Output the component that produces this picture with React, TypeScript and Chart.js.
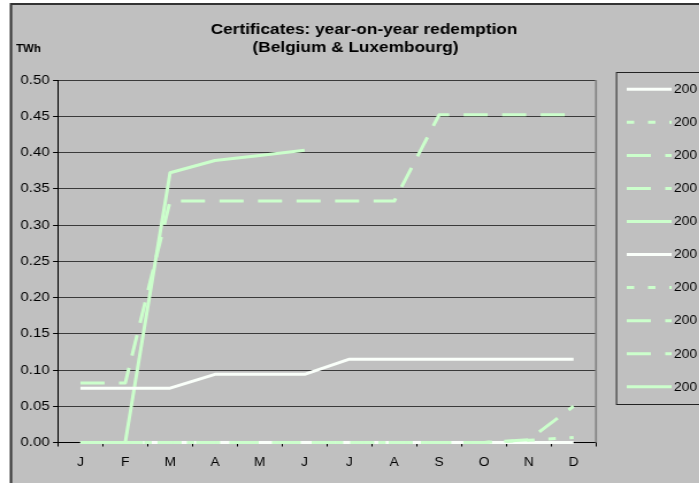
import React, { useEffect, useRef } from "react";
import { Chart, registerables } from "chart.js";

Chart.register(...registerables);

// ---- data ----
const months = ["J", "F", "M", "A", "M", "J", "J", "A", "S", "O", "N", "D"];
const seriesNames = ["2000", "2001", "2002", "2003", "2004", "2005", "2006", "2007", "2008", "2009"];
const s1 = [0.075, 0.075, 0.075, 0.094, 0.094, 0.094, 0.115, 0.115, 0.115, 0.115, 0.115, 0.115];
const s2 = [0, 0, 0, 0, 0, 0, 0, 0, 0, 0, 0.003, 0.007];
const s3 = [0.082, 0.082, 0.333, 0.333, 0.333, 0.333, 0.333, 0.333, 0.452, 0.452, 0.452, 0.452];
const s4 = [0, 0, 0, 0, 0, 0, 0, 0, 0, 0, 0.004, 0.05];
const s5 = [0, 0, 0.372, 0.389, 0.396, 0.403, null, null, null, null, null, null];
const s6 = [0, 0, 0, 0, 0, 0, 0, 0, 0, 0, 0, 0];
const s7 = [null, null, null, null, null, null, null, null, null, null, null, null];
const s8 = [null, null, null, null, null, null, null, null, null, null, null, null];
const s9 = [null, null, null, null, null, null, null, null, null, null, null, null];
const s10 = [null, null, null, null, null, null, null, null, null, null, null, null];
const seriesValues = [s1, s2, s3, s4, s5, s6, s7, s8, s9, s10];
const yTicks = { min: 0, max: 0.5, step: 0.05 };

// ---- styles ----
const S = 1.15; // horizontal stretch
const CW = 700;
const CH = 483;
const fx = (x: number) => x / S;
const FONT = '"Liberation Sans", Arial, sans-serif';
const WHITE = "#fafffa";
const GREEN = "#ccffcc";
const DOT = [6.5, 12];
const DASH = [21, 12.5];
const styles = [
  { color: WHITE, dash: [] as number[] },
  { color: GREEN, dash: DOT },
  { color: GREEN, dash: DASH },
  { color: GREEN, dash: DASH },
  { color: GREEN, dash: [] as number[] },
];

const decorPlugin = {
  id: "decor",
  beforeDraw(chart: any) {
    const ctx = chart.ctx;
    ctx.save();
    ctx.fillStyle = "#ffffff";
    ctx.fillRect(0, 0, CW, CH);
    ctx.fillStyle = "#c0c0c0";
    ctx.fillRect(fx(10), 3, CW, CH);
    ctx.strokeStyle = "#333333";
    ctx.lineWidth = 2;
    ctx.beginPath();
    ctx.moveTo(fx(11), CH + 5);
    ctx.lineTo(fx(11), 4);
    ctx.lineTo(CW + 5, 4);
    ctx.stroke();
    ctx.restore();
  },
  afterDraw(chart: any) {
    const ctx = chart.ctx;
    const area = chart.chartArea;
    ctx.save();
    // right plot border
    ctx.strokeStyle = "#858585";
    ctx.lineWidth = 2 / S;
    ctx.beginPath();
    ctx.moveTo(area.right, area.top);
    ctx.lineTo(area.right, area.bottom);
    ctx.stroke();

    // title
    ctx.fillStyle = "#000";
    ctx.textBaseline = "middle";
    ctx.textAlign = "center";
    ctx.font = `bold 15px ${FONT}`;
    ctx.fillText("Certificates: year-on-year redemption", fx(364), 29.5);
    ctx.fillText("(Belgium & Luxembourg)", fx(355.5), 48);
    ctx.textAlign = "left";
    ctx.font = `bold 10px ${FONT}`;
    ctx.fillText("TWh", fx(16), 49.5);

    // legend
    ctx.strokeStyle = "#222";
    ctx.lineWidth = 1;
    ctx.strokeRect(fx(616.5), 72.5, CW, 332);
    ctx.font = `12px ${FONT}`;
    for (let i = 0; i < seriesNames.length; i++) {
      const st = styles[i % 5];
      const y = 89.3 + i * 33.05;
      ctx.strokeStyle = st.color;
      ctx.lineWidth = 3;
      ctx.setLineDash(st.dash);
      ctx.beginPath();
      ctx.moveTo(fx(626.7), y);
      ctx.lineTo(fx(671.7), y);
      ctx.stroke();
      ctx.setLineDash([]);
      ctx.save();
      ctx.beginPath();
      ctx.rect(fx(620), y - 10, fx(697) - fx(620), 20);
      ctx.clip();
      ctx.fillStyle = "#000";
      ctx.fillText(seriesNames[i], fx(674), y + 0.5);
      ctx.restore();
    }
    ctx.restore();
  },
};

export default function App() {
  const ref = useRef<HTMLCanvasElement | null>(null);
  useEffect(() => {
    if (!ref.current) return;
    const chart = new Chart(ref.current, {
      type: "line",
      data: {
        labels: months,
        datasets: seriesValues.map((vals, i) => ({
          label: seriesNames[i],
          data: vals,
          borderColor: styles[i % 5].color,
          backgroundColor: styles[i % 5].color,
          borderDash: styles[i % 5].dash,
          borderWidth: 3,
          borderJoinStyle: "round" as const,
          pointRadius: 0,
          tension: 0,
          fill: false,
          clip: false,
        })),
      },
      options: {
        responsive: false,
        animation: false,
        devicePixelRatio: 1,
        layout: { padding: { left: 0, top: 80, right: CW - fx(596), bottom: 0 } },
        plugins: {
          legend: { display: false },
          title: { display: false },
          tooltip: { enabled: false },
        },
        scales: {
          x: {
            type: "category",
            offset: true,
            grid: {
              display: true,
              drawOnChartArea: false,
              drawTicks: true,
              tickLength: 4,
              color: "#000",
              offset: true,
            },
            border: { display: true, color: "#000", width: 1 },
            ticks: {
              color: "#000",
              font: { family: FONT, size: 12 },
              padding: 9,
              maxRotation: 0,
              autoSkip: false,
            },
            afterFit: (s: any) => {
              s.height = CH - 442.5;
            },
          },
          y: {
            min: yTicks.min,
            max: yTicks.max,
            ticks: {
              stepSize: yTicks.step,
              callback: (v: any) => Number(v).toFixed(2),
              color: "#000",
              font: { family: FONT, size: 13 },
              padding: 3,
            },
            grid: {
              color: "#3a3a3a",
              lineWidth: 1,
              tickLength: 4.3,
              tickColor: "#000",
              drawTicks: true,
            },
            border: { display: true, color: "#000", width: 1 },
            afterFit: (s: any) => {
              s.width = fx(58);
            },
          },
        },
      },
      plugins: [decorPlugin],
    } as any);
    return () => chart.destroy();
  }, []);
  return (
    <div
      style={{
        position: "fixed",
        left: 0,
        top: 0,
        width: 699,
        height: 483,
        overflow: "hidden",
        background: "#fff",
      }}
    >
      <canvas
        ref={ref}
        width={CW}
        height={CH}
        style={{ display: "block", transform: `scaleX(${S})`, transformOrigin: "0 0" }}
      />
    </div>
  );
}
